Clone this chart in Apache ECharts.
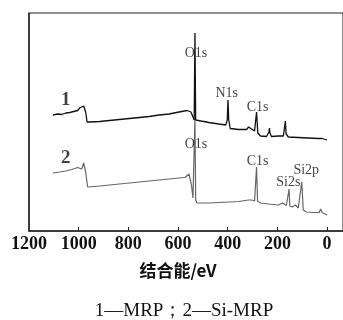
<!DOCTYPE html>
<html>
<head>
<meta charset="utf-8">
<script src="https://cdn.jsdelivr.net/npm/echarts@6/dist/echarts.min.js"></script>
<style>
  html, body { margin: 0; padding: 0; background: #fff; }
  #chart { width: 343px; height: 320px; }
</style>
</head>
<body>
<div id="chart"></div>
<script>
// binding energy (eV) / intensity (a.u.)
var mrpData = [
  [1104, 116], [1084, 117], [1068, 116.5], [1052, 118], [1036, 118.5], [1020, 119.5],
  [1004, 120.5], [996, 123], [988, 121], [980, 125], [976, 126], [972, 119], [966, 109],
  [956, 109], [916, 109.5], [876, 110.5], [836, 111.5], [796, 112.5], [756, 113.5],
  [716, 114.5], [676, 116], [636, 117], [596, 119], [564, 120.5], [556, 121], [548, 119],
  [540, 114], [535, 111], [532, 198], [529, 111], [524, 111], [508, 110], [500, 111],
  [496, 109.5], [476, 108.5], [436, 107], [408, 106], [402, 111], [399, 131], [396, 111],
  [390, 102.5], [356, 101.5], [324, 101.5], [316, 104], [304, 102], [292, 100], [284, 119],
  [279, 98], [268, 95], [244, 94.5], [234, 99], [232, 103], [230, 98], [224, 94.5],
  [196, 95], [176, 95], [170, 106], [168, 110], [165, 97], [156, 94], [116, 93.5],
  [76, 93], [36, 92.5], [28, 94], [20, 92.5], [0, 91]
];
var siMrpData = [
  [1104, 58], [1076, 59], [1052, 60], [1028, 61.5], [1004, 63.5], [996, 65], [988, 62],
  [980, 68], [976, 67.5], [972, 59], [964, 44], [956, 44], [916, 45], [876, 46], [836, 47],
  [796, 48], [756, 49], [716, 50], [676, 51], [636, 52], [596, 53], [572, 53.5], [564, 52.5],
  [556, 57], [552, 56.5], [546, 46], [540, 33], [535, 33], [532, 113], [529, 31], [524, 28],
  [476, 28], [436, 28.5], [396, 29], [356, 29.5], [316, 31], [304, 31], [292, 30], [284, 64],
  [280, 30], [268, 28], [236, 27], [196, 26], [180, 28], [172, 28.5], [164, 25.5], [156, 25],
  [153, 42], [150, 25], [140, 24], [128, 26], [116, 23], [108, 22], [102, 49], [96, 21],
  [84, 19], [56, 18.5], [32, 18.5], [26, 22], [20, 18.5], [0, 16]
];
var peakLabels = [
  { name: 'O1s', value: [528, 178] },
  { name: 'N1s', value: [404, 138] },
  { name: 'C1s', value: [280, 124] },
  { name: 'O1s', value: [528, 87] },
  { name: 'C1s', value: [280, 70] },
  { name: 'Si2s', value: [156, 49] },
  { name: 'Si2p', value: [84, 61] }
];
var curveLabels = [
  { name: '1', value: [1052, 131] },
  { name: '2', value: [1052, 73] }
];
var tickValues = [0, 200, 400, 600, 800, 1000, 1200];

var serif = '"Liberation Serif", "DejaVu Serif", serif';
var myChart = echarts.init(document.getElementById('chart'));
var option = {
  animation: false,
  grid: {
    left: 29,
    right: -2,
    top: 13,
    bottom: 89,
    show: true,
    borderColor: '#222',
    borderWidth: 1
  },
  xAxis: {
    type: 'value',
    inverse: true,
    min: -64,
    max: 1200,
    name: '结合能/eV',
    nameLocation: 'middle',
    nameGap: 31,
    nameTextStyle: {
      color: '#111',
      fontSize: 17,
      fontWeight: 'bold',
      fontFamily: '"Noto Sans CJK SC", ' + serif,
      padding: [0, 16, 0, 0]
    },
    axisLine: { onZero: false, lineStyle: { color: '#222', width: 1.5 } },
    axisTick: {
      inside: true,
      length: 4,
      customValues: [0, 200, 400, 600, 800, 1000],
      lineStyle: { color: '#222' }
    },
    axisLabel: {
      customValues: tickValues,
      margin: 4,
      color: '#111',
      fontSize: 18,
      fontWeight: 'bold',
      fontFamily: serif,
      formatter: function (v) { return String(v); }
    },
    splitLine: { show: false }
  },
  yAxis: {
    type: 'value',
    min: 0,
    max: 218,
    axisLine: { show: true, onZero: false, lineStyle: { color: '#222', width: 1.5 } },
    axisTick: { show: false },
    axisLabel: { show: false },
    splitLine: { show: false }
  },
  series: [{
    name: 'MRP',
    type: 'line',
    data: mrpData,
    showSymbol: false,
    lineStyle: { color: '#111', width: 1.3 },
    z: 3
  }, {
    name: 'Si-MRP',
    type: 'line',
    data: siMrpData,
    showSymbol: false,
    lineStyle: { color: '#666', width: 1.2 },
    z: 2
  }, {
    type: 'scatter',
    data: peakLabels,
    symbolSize: 0,
    label: {
      show: true,
      position: 'inside',
      formatter: '{b}',
      color: '#111',
      fontSize: 14,
      fontFamily: serif
    },
    z: 4
  }, {
    type: 'scatter',
    data: curveLabels,
    symbolSize: 0,
    label: {
      show: true,
      position: 'inside',
      formatter: '{b}',
      color: '#111',
      fontSize: 19,
      fontWeight: 'bold',
      fontFamily: serif
    },
    z: 4
  }],
  graphic: [{
    type: 'text',
    x: 184,
    y: 311,
    style: {
      text: '1—MRP；2—Si-MRP',
      align: 'center',
      verticalAlign: 'middle',
      fill: '#111',
      fontSize: 19,
      fontFamily: serif
    }
  }]
};
myChart.setOption(option, true);
</script>
</body>
</html>
